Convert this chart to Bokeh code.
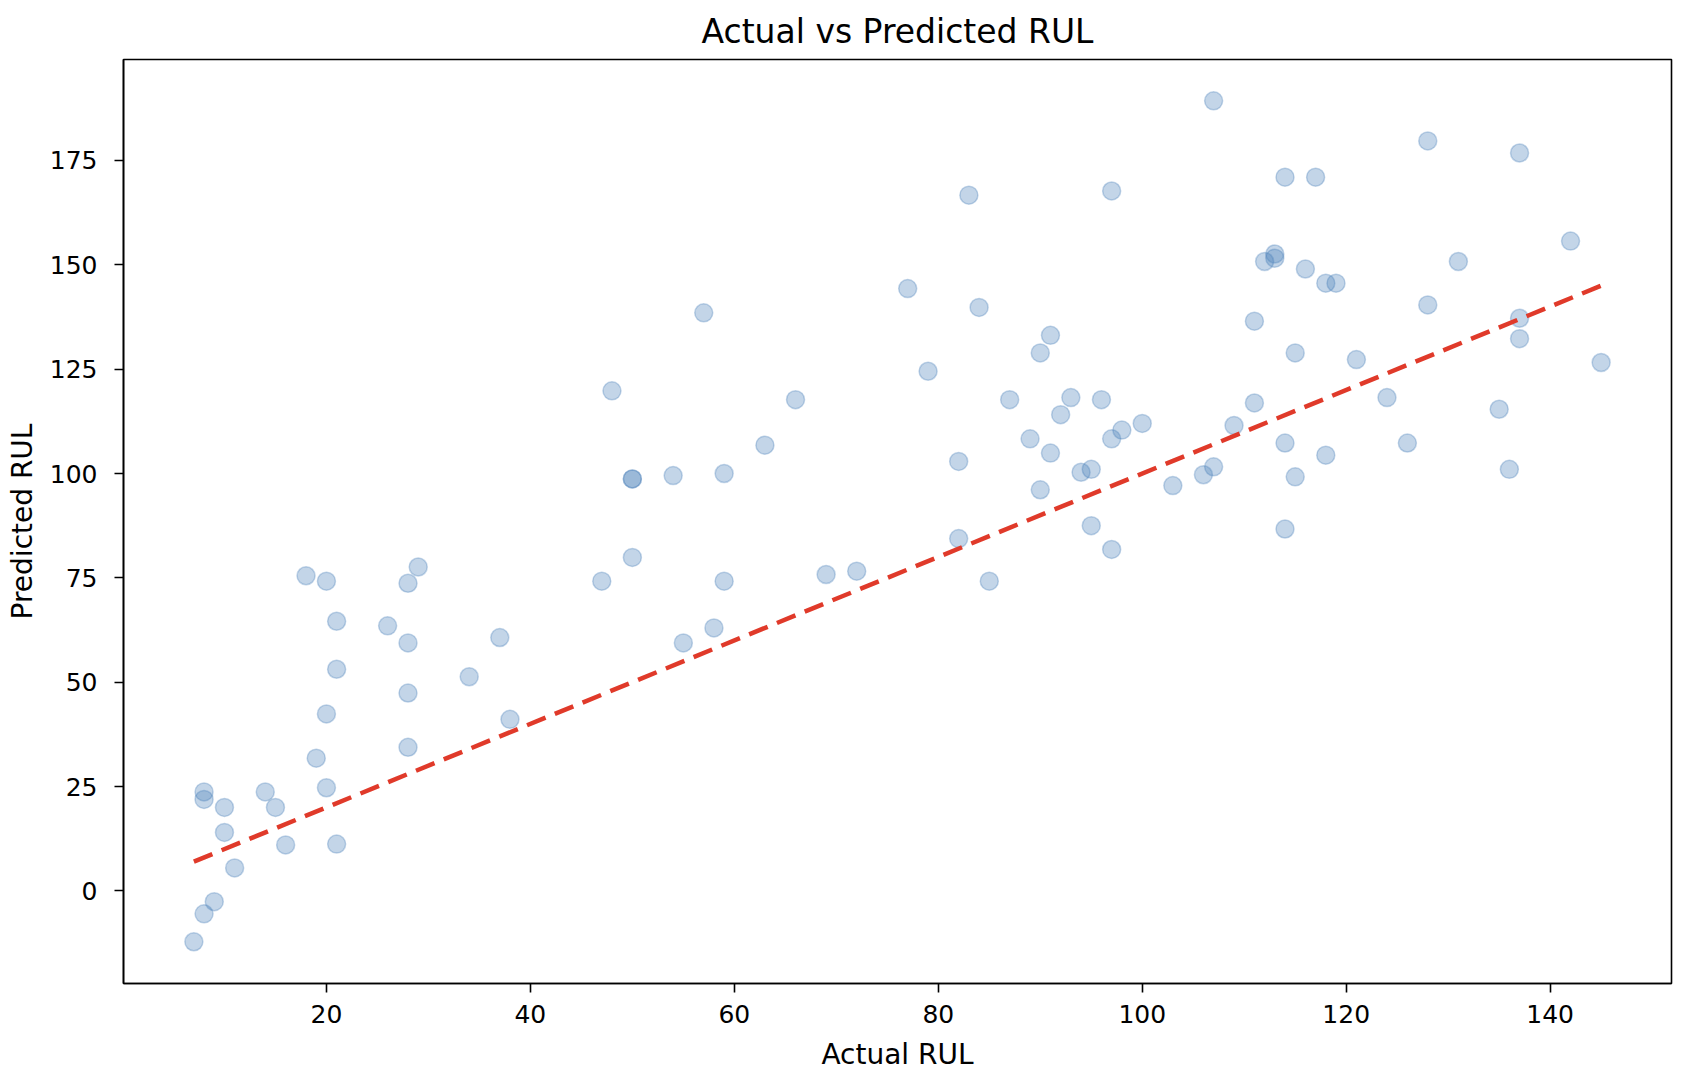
from bokeh.plotting import figure
from bokeh.embed import file_html
from bokeh.resources import INLINE
from bokeh.models import Range1d, FixedTicker

# Data (actual RUL vs predicted RUL)
actual_rul = [7, 8, 9, 8, 8, 10, 10, 11, 14, 15, 16, 18, 19, 20, 20, 20, 21, 21, 21,
              26, 28, 28, 28, 28, 29, 34, 37, 38, 47, 48, 50, 50, 50, 54, 55, 57, 58,
              59, 59, 63, 66, 69, 72, 77, 79, 82, 82, 83, 84, 85, 87, 89, 90, 90, 91,
              91, 92, 93, 94, 95, 95, 96, 97, 97, 97, 98, 100, 103, 106, 107, 107, 109,
              111, 111, 112, 113, 113, 114, 114, 114, 115, 115, 116, 117, 118, 118, 119,
              121, 124, 126, 128, 128, 131, 135, 136, 137, 137, 137, 142, 145]
predicted_rul = [-12.2, -5.5, -2.6, 23.7, 21.9, 20.0, 14.0, 5.5, 23.7, 20.0, 11.0, 75.5,
                 31.8, 74.2, 42.4, 24.7, 64.6, 53.1, 11.2, 63.5, 73.7, 59.4, 47.4, 34.4,
                 77.6, 51.3, 60.7, 41.1, 74.2, 119.8, 98.7, 98.7, 79.9, 99.5, 59.4, 138.5,
                 63.0, 100.0, 74.2, 106.8, 117.7, 75.8, 76.6, 144.3, 124.5, 102.9, 84.4,
                 166.7, 139.8, 74.2, 117.7, 108.3, 128.9, 96.1, 133.1, 104.9, 114.1, 118.2,
                 100.3, 101.0, 87.5, 117.7, 167.7, 108.3, 81.8, 110.4, 112.0, 97.1, 99.7,
                 189.3, 101.6, 111.5, 116.9, 136.5, 150.8, 152.6, 151.6, 171.0, 107.3, 86.7,
                 128.9, 99.2, 149.0, 171.0, 145.6, 104.4, 145.6, 127.3, 118.2, 107.3, 179.7,
                 140.4, 150.8, 115.4, 101.0, 176.8, 137.2, 132.3, 155.7, 126.6]

# Ideal-prediction reference line endpoints (min and max of actual RUL)
ideal_line = [min(actual_rul), max(actual_rul)]

x_ticks = [20, 40, 60, 80, 100, 120, 140]
y_ticks = [0, 25, 50, 75, 100, 125, 150, 175]

FONT = "DejaVu Sans"

p = figure(width=1688, height=1076, output_backend="svg", toolbar_location=None,
           title="Actual vs Predicted RUL",
           x_range=Range1d(0.1, 151.9), y_range=Range1d(-22.2, 199.2),
           min_border_left=123, min_border_right=17, min_border_top=59,
           min_border_bottom=93)

p.scatter(actual_rul, predicted_rul, size=18, marker="circle",
          fill_color="#4a7fb8", fill_alpha=0.33,
          line_color="#4a7fb8", line_alpha=0.33, line_width=1.5)

p.line(ideal_line, ideal_line, line_color="#e03a2a", line_width=4.5,
       line_dash="20 10")

p.title.align = "center"
p.title.text_font = FONT
p.title.text_font_size = "33px"
p.title.text_font_style = "normal"
p.title.text_color = "#000000"
p.title.standoff = 18

p.xgrid.visible = False
p.ygrid.visible = False
p.outline_line_color = "#000000"
p.outline_line_width = 1.6
p.outline_line_alpha = 1.0

for ax in (p.xaxis, p.yaxis):
    ax.axis_line_color = "#000000"
    ax.axis_line_width = 1.6
    ax.major_tick_in = 0
    ax.major_tick_out = 9
    ax.major_tick_line_width = 1.6
    ax.minor_tick_line_color = None
    ax.major_label_text_font = FONT
    ax.major_label_text_font_size = "25px"
    ax.major_label_text_color = "#000000"
    ax.axis_label_text_font = FONT
    ax.axis_label_text_font_size = "28px"
    ax.axis_label_text_font_style = "normal"
    ax.axis_label_text_color = "#000000"

p.xaxis.ticker = FixedTicker(ticks=x_ticks)
p.yaxis.ticker = FixedTicker(ticks=y_ticks)
p.xaxis.axis_label = "Actual RUL"
p.yaxis.axis_label = "Predicted RUL"
p.yaxis.major_label_orientation = "horizontal"
p.xaxis.major_label_standoff = 12
p.yaxis.major_label_standoff = 17
p.xaxis.axis_label_standoff = 12
p.yaxis.axis_label_standoff = 8

open("out.html", "w").write(file_html(p, INLINE))
